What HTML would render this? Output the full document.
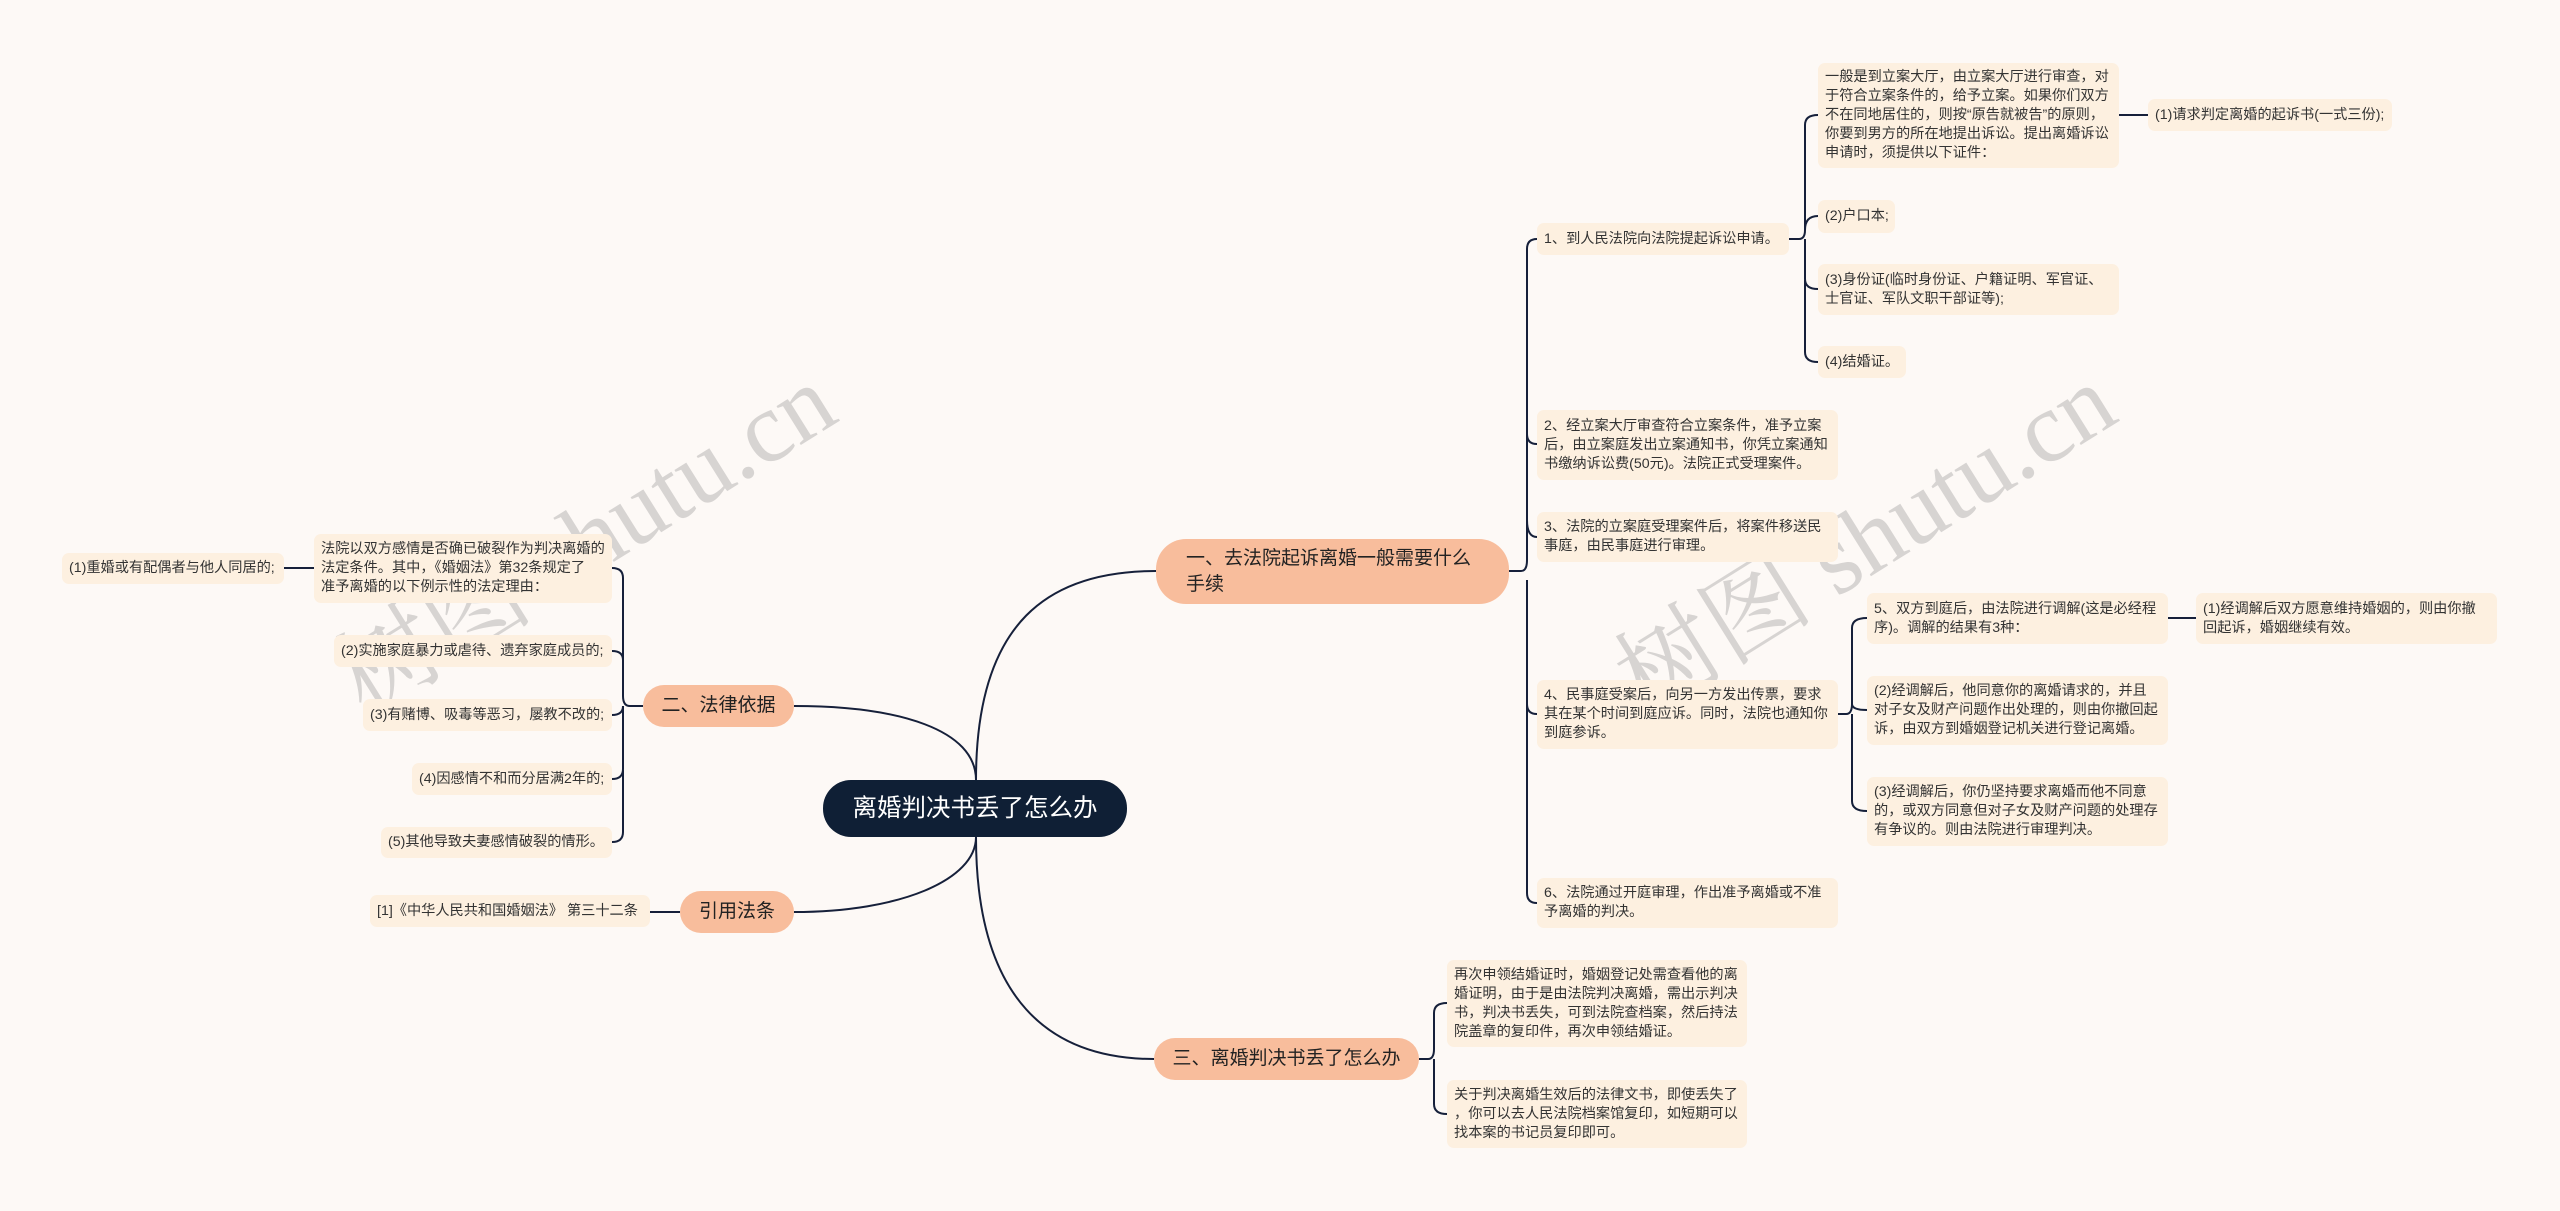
<!DOCTYPE html>
<html><head><meta charset="utf-8"><style>
html,body{margin:0;padding:0}
body{width:2560px;height:1211px;background:#fdf9f6;position:relative;overflow:hidden;font-family:"Liberation Sans","Noto Sans CJK SC",sans-serif}
.n{position:absolute;box-sizing:border-box;background:#fdf0e0;border-radius:7px;font-size:14.2px;line-height:19px;color:#333;padding:0 5px 0 7px;display:flex;align-items:center;word-break:break-all}
.s{white-space:nowrap}
.b{position:absolute;box-sizing:border-box;background:#f8bd9c;border-radius:22px;font-size:19px;line-height:26px;color:#222;display:flex;align-items:center;justify-content:center;padding:0 10px;white-space:nowrap}
.wm{position:absolute;font-family:"Liberation Serif","Noto Serif CJK SC",serif;font-size:100px;color:rgba(120,120,120,0.28);white-space:nowrap;transform:rotate(-32deg);transform-origin:center}
svg{position:absolute;left:0;top:0}
</style></head><body>
<svg width="2560" height="1211" fill="none" stroke="#16203a" stroke-width="2">
<path d="M976,780 C976,620 1050,571 1156,571"/>
<path d="M976,780 C976,730 900,706 794,706"/>
<path d="M976,837 C976,880 900,912 794,912"/>
<path d="M976,837 C976,1000 1050,1059 1154,1059"/>
<path d="M1509,571 H1521 Q1527,571 1527,560 V249 Q1527,239 1537,239"/>
<path d="M1527,300 V434 Q1527,444 1537,444"/>
<path d="M1527,520 Q1527,537 1537,537"/>
<path d="M1527,580 V704 Q1527,714 1537,714"/>
<path d="M1527,700 V893 Q1527,903 1537,903"/>
<path d="M1789,239 H1799 Q1805,239 1805,230 V125 Q1805,115 1818,115"/>
<path d="M1805,230 Q1805,216 1818,216"/>
<path d="M1805,239 V279 Q1805,289 1818,289"/>
<path d="M1805,280 V352 Q1805,362 1818,362"/>
<path d="M2119,115 H2148"/>
<path d="M1838,714 H1846 Q1852,714 1852,704 V628 Q1852,618 1867,618"/>
<path d="M1852,704 Q1852,710 1867,710"/>
<path d="M1852,714 V801 Q1852,811 1867,811"/>
<path d="M2168,618 H2196"/>
<path d="M1419,1059 H1428 Q1434,1059 1434,1049 V1013 Q1434,1003 1447,1003"/>
<path d="M1434,1059 V1104 Q1434,1114 1447,1114"/>
<path d="M643,706 H630 Q623,706 623,696 V578 Q623,568 612,568"/>
<path d="M623,660 Q623,651 612,651"/>
<path d="M623,706 Q623,715 612,715"/>
<path d="M623,706 V769 Q623,779 612,779"/>
<path d="M623,770 V832 Q623,842 612,842"/>
<path d="M314,568 H284"/>
<path d="M680,912 H650"/>
</svg>

<div class="wm" style="left:300px;top:460px">树图 shutu.cn</div>
<div class="wm" style="left:1580px;top:460px">树图 shutu.cn</div>

<div class="b" style="left:823px;top:780px;width:304px;height:57px;background:#0f1f35;color:#fff;font-size:24.5px;border-radius:28px">离婚判决书丢了怎么办</div>
<div class="b" style="left:1156px;top:539px;width:353px;height:65px;border-radius:30px;justify-content:flex-start;padding-left:30px;white-space:normal">一、去法院起诉离婚一般需要什么<br>手续</div>
<div class="b" style="left:643px;top:685px;width:151px;height:42px">二、法律依据</div>
<div class="b" style="left:680px;top:891px;width:114px;height:42px">引用法条</div>
<div class="b" style="left:1154px;top:1038px;width:265px;height:42px">三、离婚判决书丢了怎么办</div>

<div class="n s" style="left:1537px;top:223px;width:252px;height:32px">1、到人民法院向法院提起诉讼申请。</div>
<div class="n" style="left:1818px;top:63px;width:301px;height:105px">一般是到立案大厅，由立案大厅进行审查，对于符合立案条件的，给予立案。如果你们双方不在同地居住的，则按“原告就被告”的原则，你要到男方的所在地提出诉讼。提出离婚诉讼申请时，须提供以下证件：</div>
<div class="n s" style="left:2148px;top:99px;width:244px;height:32px">(1)请求判定离婚的起诉书(一式三份);</div>
<div class="n s" style="left:1818px;top:200px;width:77px;height:33px">(2)户口本;</div>
<div class="n" style="left:1818px;top:264px;width:301px;height:51px">(3)身份证(临时身份证、户籍证明、军官证、<br>士官证、军队文职干部证等);</div>
<div class="n s" style="left:1818px;top:346px;width:88px;height:32px">(4)结婚证。</div>
<div class="n" style="left:1537px;top:410px;width:301px;height:70px">2、经立案大厅审查符合立案条件，准予立案后，由立案庭发出立案通知书，你凭立案通知书缴纳诉讼费(50元)。法院正式受理案件。</div>
<div class="n" style="left:1537px;top:512px;width:301px;height:50px">3、法院的立案庭受理案件后，将案件移送民事庭，由民事庭进行审理。</div>
<div class="n" style="left:1537px;top:680px;width:301px;height:69px">4、民事庭受案后，向另一方发出传票，要求其在某个时间到庭应诉。同时，法院也通知你到庭参诉。</div>
<div class="n" style="left:1867px;top:593px;width:301px;height:51px">5、双方到庭后，由法院进行调解(这是必经程<br>序)。调解的结果有3种：</div>
<div class="n" style="left:2196px;top:593px;width:301px;height:51px">(1)经调解后双方愿意维持婚姻的，则由你撤<br>回起诉，婚姻继续有效。</div>
<div class="n" style="left:1867px;top:676px;width:301px;height:69px">(2)经调解后，他同意你的离婚请求的，并且<br>对子女及财产问题作出处理的，则由你撤回起<br>诉，由双方到婚姻登记机关进行登记离婚。</div>
<div class="n" style="left:1867px;top:777px;width:301px;height:69px">(3)经调解后，你仍坚持要求离婚而他不同意<br>的，或双方同意但对子女及财产问题的处理存<br>有争议的。则由法院进行审理判决。</div>
<div class="n" style="left:1537px;top:878px;width:301px;height:50px">6、法院通过开庭审理，作出准予离婚或不准予离婚的判决。</div>

<div class="n" style="left:1447px;top:960px;width:300px;height:87px">再次申领结婚证时，婚姻登记处需查看他的离<br>婚证明，由于是由法院判决离婚，需出示判决<br>书，判决书丢失，可到法院查档案，然后持法<br>院盖章的复印件，再次申领结婚证。</div>
<div class="n" style="left:1447px;top:1080px;width:300px;height:68px">关于判决离婚生效后的法律文书，即使丢失了<br>，你可以去人民法院档案馆复印，如短期可以<br>找本案的书记员复印即可。</div>

<div class="n" style="left:314px;top:534px;width:298px;height:69px">法院以双方感情是否确已破裂作为判决离婚的<br>法定条件。其中，《婚姻法》第32条规定了<br>准予离婚的以下例示性的法定理由：</div>
<div class="n s" style="left:62px;top:553px;width:222px;height:31px">(1)重婚或有配偶者与他人同居的;</div>
<div class="n s" style="left:334px;top:635px;width:278px;height:32px">(2)实施家庭暴力或虐待、遗弃家庭成员的;</div>
<div class="n s" style="left:363px;top:699px;width:249px;height:32px">(3)有赌博、吸毒等恶习，屡教不改的;</div>
<div class="n s" style="left:412px;top:763px;width:200px;height:32px">(4)因感情不和而分居满2年的;</div>
<div class="n s" style="left:381px;top:827px;width:231px;height:31px">(5)其他导致夫妻感情破裂的情形。</div>
<div class="n s" style="left:370px;top:895px;width:280px;height:32px">[1]《中华人民共和国婚姻法》 第三十二条</div>
</body></html>
